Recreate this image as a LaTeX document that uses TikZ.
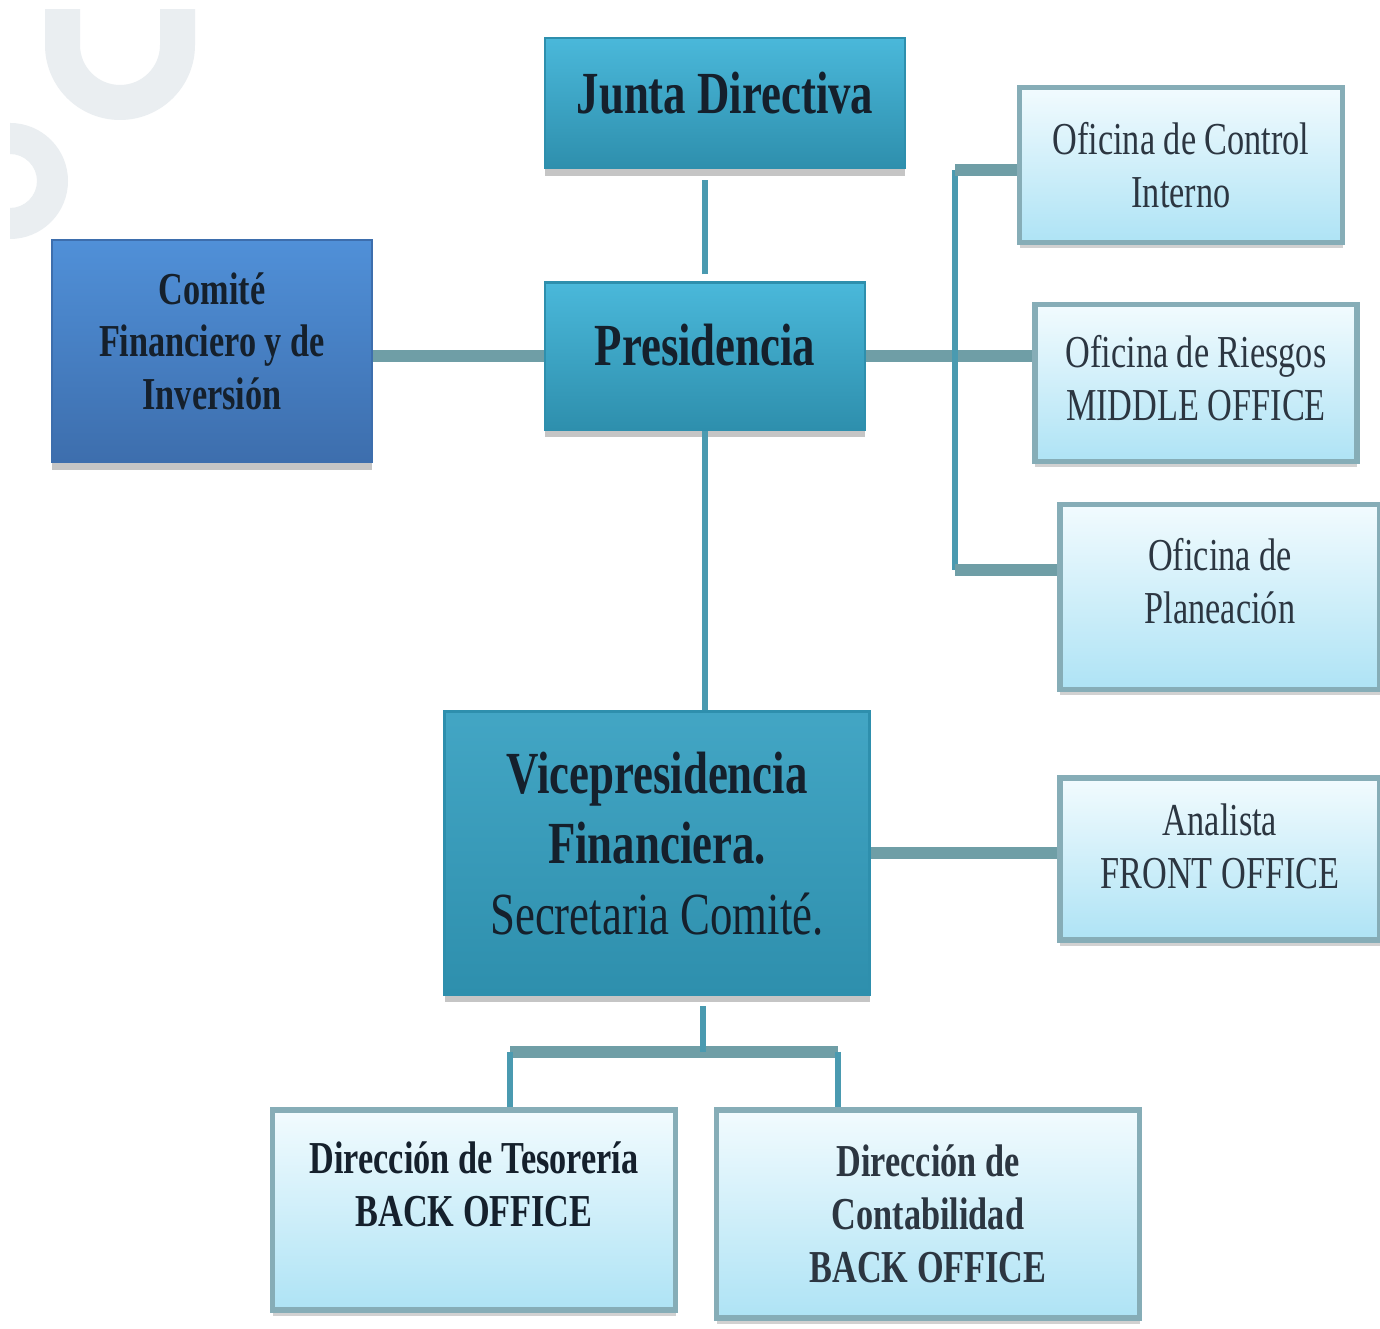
\documentclass[tikz,border=0pt]{standalone}
\usepackage{fontspec}
\setmainfont[FakeStretch=0.75]{Liberation Serif}
\usepackage{tikz}
\usetikzlibrary{positioning,calc,shadows}
\usepackage{xcolor}

\definecolor{tealtop}{HTML}{4AB8DA}
\definecolor{tealbot}{HTML}{2E8FAD}
\definecolor{bluetop}{HTML}{5090D8}
\definecolor{bluebot}{HTML}{3D6EAD}
\definecolor{litetop}{HTML}{F2FBFE}
\definecolor{litebot}{HTML}{AEE3F5}
\definecolor{liteedge}{HTML}{86ADB7}
\definecolor{buscol}{HTML}{6F9EA6}
\definecolor{stemcol}{HTML}{4A9AB0}
\definecolor{inkcol}{HTML}{15202C}
\definecolor{logogray}{HTML}{EAEEF1}

\tikzset{
  darkbox/.style={rectangle, top color=tealtop, bottom color=tealbot,
    draw=tealbot, line width=.6pt, text=inkcol, align=center,
    drop shadow={shadow xshift=0pt, shadow yshift=-.08cm, fill=black!50, opacity=.45}},
  bluebox/.style={darkbox, top color=bluetop, bottom color=bluebot, draw=bluebot},
  litebox/.style={rectangle, top color=litetop, bottom color=litebot,
    draw=liteedge, line width=1.5pt, text=inkcol!90, align=center,
    drop shadow={shadow xshift=0pt, shadow yshift=-.06cm, fill=black!45, opacity=.4}},
  busline/.style={line width=3.4pt, draw=buscol},
  stemline/.style={line width=1.7pt, draw=stemcol},
  bigfont/.style={font=\fontsize{17}{20}\selectfont},
  smallfont/.style={font=\fontsize{13}{15}\selectfont},
  lift/.style={text depth=#1},
}

\begin{document}
\begin{tikzpicture}
    % background and page size
    \fill[white] (0cm, 0cm) rectangle (13.8cm, 13.28cm);
    \useasboundingbox (0cm, 0cm) rectangle (13.8cm, 13.28cm);

    % faint logo in the corner
    \begin{scope}
      \clip (0.07cm, 0cm) rectangle (2.4cm, 13.18cm);
      \fill[logogray] (0.45cm, 13.3cm) -- (0.45cm, 12.83cm)
        arc[start angle=180, end angle=360, radius=0.75cm] -- (1.95cm, 13.3cm)
        -- (1.60cm, 13.3cm) -- (1.60cm, 12.83cm)
        arc[start angle=360, end angle=180, radius=0.40cm] -- (0.80cm, 13.3cm) -- cycle;
      \fill[logogray] (0.10cm, 12.05cm)
        arc[start angle=90, end angle=-90, radius=0.58cm] -- (0.10cm, 11.20cm)
        arc[start angle=-90, end angle=90, radius=0.27cm] -- cycle;
    \end{scope}

    % Top
    \node[darkbox, bigfont, lift=0.2cm, minimum width=3.6cm, minimum height=1.3cm] (junta)
      at (7.25cm, 12.25cm) {\bfseries Junta Directiva};
    \node[darkbox, bigfont, lift=0.22cm, minimum width=3.2cm, minimum height=1.47cm] (presidencia)
      at (7.05cm, 9.72cm) {\bfseries Presidencia};
    \node[bluebox, smallfont, lift=0.2cm, minimum width=3.2cm, minimum height=2.22cm] (comite)
      at (2.12cm, 9.77cm) {\bfseries Comité\\\bfseries Financiero y de\\\bfseries Inversión};

    % Oficinas
    \node[litebox, smallfont, minimum width=3.23cm, minimum height=1.55cm] (control)
      at (11.81cm, 11.63cm) {Oficina de Control\\Interno};
    \node[litebox, smallfont, lift=0.1cm, minimum width=3.22cm, minimum height=1.57cm] (riesgos)
      at (11.96cm, 9.45cm) {Oficina de Riesgos\\MIDDLE OFFICE};
    \node[litebox, smallfont, lift=0.32cm, minimum width=3.2cm, minimum height=1.85cm] (planeacion)
      at (12.2cm, 7.31cm) {Oficina de\\Planeación};

    % Vicepresidencia
    \node[darkbox, bigfont, lift=0.2cm, minimum width=4.25cm, minimum height=2.83cm, top color=tealtop!90!black] (vice)
      at (6.57cm, 4.75cm) {\bfseries Vicepresidencia\\\bfseries Financiera.\\Secretaria Comité.};
    \node[litebox, smallfont, lift=0.26cm, minimum width=3.2cm, minimum height=1.62cm] (analista)
      at (12.2cm, 4.69cm) {Analista\\FRONT OFFICE};

    % Direcciones
    \node[litebox, minimum width=4.03cm, minimum height=2cm] (tesoreria)
      at (4.74cm, 1.18cm) {};
    \node[smallfont, align=center, text=inkcol] (tesoreria-txt)
      at (4.74cm, 1.44cm) {\bfseries Dirección de Tesorería\\\bfseries BACK OFFICE};
    \node[litebox, smallfont, minimum width=4.23cm, minimum height=2.08cm] (contabilidad)
      at (9.28cm, 1.14cm) {\bfseries Dirección de\\\bfseries Contabilidad\\\bfseries BACK OFFICE};

    % connectors
    \coordinate (busT) at (9.55cm, 11.58cm);
    \coordinate (busB) at (9.55cm, 7.58cm);
    \coordinate (split) at (7.03cm, 2.76cm);
    \coordinate (splitL) at (5.10cm, 2.76cm);
    \coordinate (splitR) at (8.38cm, 2.76cm);

    \draw[stemline, shorten <=2pt, shorten >=3pt] (presidencia.north) -- (presidencia.north |- junta.south);
    \draw[busline] (comite.east |- presidencia.west) -- (presidencia.west);
    \draw[busline] (presidencia.east) -- (presidencia.east -| riesgos.west);
    \draw[stemline] (busT) -- (busB);
    \draw[busline] (busT) -- (busT -| control.west);
    \draw[busline] (busB) -- (busB -| planeacion.west);
    \draw[stemline] (presidencia.south) -- (presidencia.south |- vice.north);
    \draw[busline] (vice.east) -- (vice.east -| analista.west);
    \draw[busline] (splitL) -- (splitR);
    \draw[stemline, shorten <=3pt] (split |- vice.south) -- (split);
    \draw[stemline] (splitL) -- (splitL |- tesoreria.north);
    \draw[stemline] (splitR) -- (splitR |- contabilidad.north);
\end{tikzpicture}
\end{document}
